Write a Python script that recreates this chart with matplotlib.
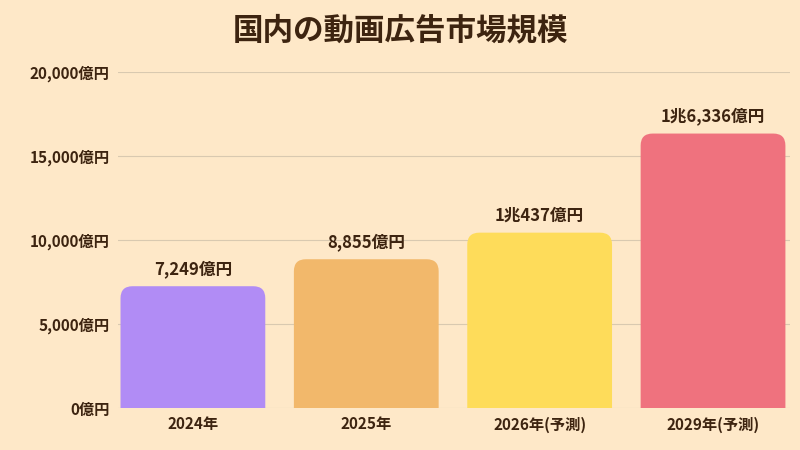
import matplotlib
matplotlib.use("Agg")
import matplotlib.pyplot as plt
from matplotlib.patches import FancyBboxPatch

plt.rcParams['font.family'] = ['Noto Sans CJK JP', 'DejaVu Sans']

categories = ["2024年", "2025年", "2026年(予測)", "2029年(予測)"]
values = [7249, 8855, 10437, 16336]
value_labels = ["7,249億円", "8,855億円", "1兆437億円", "1兆6,336億円"]
ytick_vals = [0, 5000, 10000, 15000, 20000]
ytick_labels = ["0億円", "5,000億円", "10,000億円", "15,000億円", "20,000億円"]
colors = ["#B18CF5", "#F2B86B", "#FEDC5A", "#EF727E"]

bg = "#FEE8C8"
txt = "#3D2410"
fig = plt.figure(figsize=(8, 4.5), dpi=100, facecolor=bg)
ax = fig.add_axes([118/800, 1-408/450, (790-118)/800, (408-72)/450], facecolor=bg)
xmin, xmax = -0.432, 3.444
ymin, ymax = 0, 20000
ax.set_xlim(xmin, xmax); ax.set_ylim(ymin, ymax)

pxx = 672/(xmax-xmin); pxy = 336/(ymax-ymin)
r = 12/pxx
aspect = pxx/pxy
w = 0.835
for i, v in enumerate(values):
    p = FancyBboxPatch((i-w/2, -2000), w, v+2000,
                       boxstyle=f"round,pad=0,rounding_size={r}",
                       mutation_aspect=aspect, fc=colors[i], ec='none', zorder=3, clip_on=True)
    ax.add_patch(p)
    ax.text(i, v+500, value_labels[i], ha='center', va='bottom', fontsize=12,
            fontweight='bold', color=txt, zorder=4)

ax.set_yticks(ytick_vals)
ax.set_yticklabels(ytick_labels)
ax.set_xticks(range(len(categories)))
ax.set_xticklabels(categories)
ax.tick_params(length=0, labelsize=11, colors=txt, pad=6)
for lab in ax.get_xticklabels() + ax.get_yticklabels():
    lab.set_fontweight('bold')
ax.grid(axis='y', color="#D9C9B0", lw=0.8, zorder=0)
for s in ax.spines.values():
    s.set_visible(False)

fig.text(0.5, 1-30/450, "国内の動画広告市場規模", ha='center', va='center',
         fontsize=22, fontweight='bold', color=txt)
fig.savefig("out.png", dpi=100, facecolor=bg)
